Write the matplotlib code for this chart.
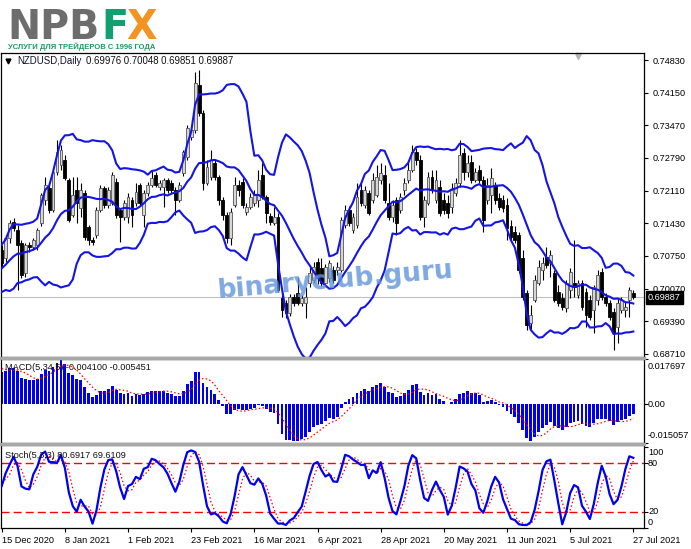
import numpy as np
import pandas as pd
import matplotlib
matplotlib.use("Agg")
import matplotlib.pyplot as plt
from matplotlib.patches import Rectangle

# NZDUSD daily bars on the chart, 15 Dec 2020 .. 27 Jul 2021
opens = [0.7087, 0.7071, 0.7112, 0.7146, 0.7129, 0.7102, 0.7039, 0.7098, 0.7094, 0.7098,
         0.7144, 0.7192, 0.7216, 0.7171, 0.7250, 0.7264, 0.7275, 0.7233, 0.7160, 0.7212,
         0.7175, 0.7206, 0.7135, 0.7108, 0.7119, 0.7171, 0.7216, 0.7181, 0.7185, 0.7229,
         0.7171, 0.7156, 0.7156, 0.7192, 0.7185, 0.7223, 0.7160, 0.7206, 0.7223, 0.7244,
         0.7219, 0.7219, 0.7233, 0.7227, 0.7212, 0.7192, 0.7248, 0.7281, 0.7323, 0.7337,
         0.7431, 0.7373, 0.7227, 0.7239, 0.7269, 0.7239, 0.7192, 0.7160, 0.7112, 0.7181,
         0.7223, 0.7229, 0.7167, 0.7177, 0.7185, 0.7192, 0.7244, 0.7198, 0.7158, 0.7144,
         0.7156, 0.6987, 0.6977, 0.6956, 0.6989, 0.6998, 0.6977, 0.6977, 0.7019, 0.7025,
         0.7062, 0.7050, 0.7019, 0.7029, 0.7046, 0.7046, 0.7046, 0.7140, 0.7171, 0.7129,
         0.7139, 0.7212, 0.7181, 0.7206, 0.7192, 0.7202, 0.7233, 0.7244, 0.7185, 0.7156,
         0.7192, 0.7171, 0.7212, 0.7233, 0.7254, 0.7291, 0.7275, 0.7156, 0.7185, 0.7239,
         0.7192, 0.7219, 0.7192, 0.7185, 0.7177, 0.7206, 0.7227, 0.7289, 0.7250, 0.7271,
         0.7233, 0.7254, 0.7233, 0.7192, 0.7202, 0.7223, 0.7196, 0.7192, 0.7181, 0.7137,
         0.7125, 0.7119, 0.7071, 0.6998, 0.6935, 0.6983, 0.7019, 0.7046, 0.7073, 0.7060,
         0.7040, 0.6999, 0.6987, 0.6967, 0.7004, 0.7019, 0.6994, 0.7019, 0.6999, 0.6983,
         0.6962, 0.6983, 0.7042, 0.6989, 0.6977, 0.6958, 0.6927, 0.6962, 0.6962, 0.6983,
         0.69976]
highs = [0.7098, 0.7119, 0.7150, 0.7154, 0.7139, 0.7108, 0.7102, 0.7104, 0.7112, 0.7133,
         0.7206, 0.7239, 0.7223, 0.7254, 0.7316, 0.7306, 0.7285, 0.7237, 0.7239, 0.7239,
         0.7227, 0.7212, 0.7139, 0.7114, 0.7177, 0.7223, 0.7221, 0.7219, 0.7250, 0.7237,
         0.7175, 0.7192, 0.7206, 0.7198, 0.7227, 0.7227, 0.7212, 0.7229, 0.7254, 0.7250,
         0.7233, 0.7237, 0.7237, 0.7233, 0.7219, 0.7229, 0.7296, 0.7347, 0.7347, 0.7458,
         0.7462, 0.7379, 0.7275, 0.7296, 0.7275, 0.7244, 0.7198, 0.7166, 0.7175, 0.7239,
         0.7233, 0.7237, 0.7185, 0.7206, 0.7212, 0.7254, 0.7269, 0.7202, 0.7164, 0.7177,
         0.7164, 0.6999, 0.6983, 0.6996, 0.6996, 0.7031, 0.6994, 0.7010, 0.7052, 0.7062,
         0.7071, 0.7071, 0.7058, 0.7067, 0.7054, 0.7062, 0.7156, 0.7181, 0.7179, 0.7164,
         0.7227, 0.7227, 0.7221, 0.7212, 0.7248, 0.7264, 0.7269, 0.7264, 0.7227, 0.7192,
         0.7198, 0.7206, 0.7237, 0.7275, 0.7306, 0.7300, 0.7285, 0.7200, 0.7250, 0.7254,
         0.7254, 0.7233, 0.7206, 0.7202, 0.7227, 0.7237, 0.7316, 0.7300, 0.7285, 0.7285,
         0.7258, 0.7264, 0.7242, 0.7237, 0.7258, 0.7229, 0.7206, 0.7202, 0.7196, 0.7150,
         0.7137, 0.7125, 0.7087, 0.7004, 0.6973, 0.7035, 0.7067, 0.7073, 0.7094, 0.7087,
         0.7046, 0.7015, 0.6998, 0.7025, 0.7050, 0.7108, 0.7025, 0.7025, 0.7008, 0.6994,
         0.7015, 0.7046, 0.7050, 0.6998, 0.6983, 0.6967, 0.6987, 0.6989, 0.6979, 0.7010,
         0.70048]
lows = [0.7050, 0.7062, 0.7102, 0.7127, 0.7004, 0.7029, 0.7031, 0.7083, 0.7087, 0.7087,
        0.7137, 0.7181, 0.7164, 0.7166, 0.7244, 0.7254, 0.7233, 0.7146, 0.7156, 0.7144,
        0.7156, 0.7108, 0.7098, 0.7098, 0.7112, 0.7166, 0.7175, 0.7175, 0.7181, 0.7154,
        0.7104, 0.7150, 0.7144, 0.7135, 0.7179, 0.7179, 0.7135, 0.7200, 0.7219, 0.7219,
        0.7212, 0.7177, 0.7206, 0.7206, 0.7160, 0.7187, 0.7241, 0.7275, 0.7316, 0.7331,
        0.7366, 0.7212, 0.7223, 0.7233, 0.7233, 0.7181, 0.7150, 0.7102, 0.7098, 0.7177,
        0.7200, 0.7175, 0.7160, 0.7173, 0.7179, 0.7177, 0.7194, 0.7144, 0.7139, 0.7139,
        0.6999, 0.6948, 0.6946, 0.6950, 0.6971, 0.6973, 0.6971, 0.6946, 0.7010, 0.7019,
        0.7017, 0.7012, 0.7012, 0.7021, 0.7019, 0.7035, 0.7042, 0.7133, 0.7137, 0.7123,
        0.7133, 0.7179, 0.7175, 0.7160, 0.7185, 0.7198, 0.7225, 0.7185, 0.7150, 0.7146,
        0.7119, 0.7164, 0.7202, 0.7227, 0.7250, 0.7264, 0.7150, 0.7135, 0.7181, 0.7206,
        0.7185, 0.7158, 0.7162, 0.7154, 0.7164, 0.7200, 0.7219, 0.7233, 0.7239, 0.7227,
        0.7229, 0.7227, 0.7125, 0.7183, 0.7164, 0.7183, 0.7171, 0.7166, 0.7108, 0.7108,
        0.7102, 0.7040, 0.6983, 0.6921, 0.6923, 0.6979, 0.7015, 0.7025, 0.7050, 0.7031,
        0.6979, 0.6971, 0.6962, 0.6958, 0.6987, 0.6989, 0.6987, 0.6962, 0.6927, 0.6942,
        0.6915, 0.6973, 0.6983, 0.6971, 0.6942, 0.6879, 0.6894, 0.6956, 0.6948, 0.6948,
        0.69851]
closes = [0.7060, 0.7112, 0.7144, 0.7133, 0.7098, 0.7035, 0.7098, 0.7094, 0.7108, 0.7129,
          0.7202, 0.7223, 0.7171, 0.7250, 0.7291, 0.7296, 0.7237, 0.7150, 0.7202, 0.7185,
          0.7212, 0.7114, 0.7108, 0.7104, 0.7171, 0.7216, 0.7181, 0.7212, 0.7244, 0.7160,
          0.7156, 0.7185, 0.7198, 0.7160, 0.7208, 0.7185, 0.7206, 0.7223, 0.7237, 0.7223,
          0.7227, 0.7233, 0.7212, 0.7212, 0.7192, 0.7223, 0.7291, 0.7341, 0.7337, 0.7435,
          0.7373, 0.7227, 0.7260, 0.7275, 0.7239, 0.7192, 0.7160, 0.7112, 0.7167, 0.7223,
          0.7212, 0.7181, 0.7177, 0.7198, 0.7202, 0.7233, 0.7198, 0.7164, 0.7146, 0.7156,
          0.7004, 0.6962, 0.6956, 0.6989, 0.6977, 0.6977, 0.6987, 0.6989, 0.7040, 0.7052,
          0.7029, 0.7019, 0.7052, 0.7060, 0.7025, 0.7052, 0.7150, 0.7171, 0.7144, 0.7156,
          0.7198, 0.7185, 0.7212, 0.7164, 0.7233, 0.7239, 0.7248, 0.7192, 0.7156, 0.7181,
          0.7144, 0.7198, 0.7227, 0.7254, 0.7291, 0.7275, 0.7156, 0.7192, 0.7239, 0.7212,
          0.7233, 0.7164, 0.7171, 0.7164, 0.7212, 0.7227, 0.7285, 0.7250, 0.7269, 0.7233,
          0.7250, 0.7233, 0.7150, 0.7223, 0.7237, 0.7192, 0.7177, 0.7175, 0.7133, 0.7114,
          0.7108, 0.7046, 0.6989, 0.6931, 0.6952, 0.7025, 0.7052, 0.7060, 0.7056, 0.7077,
          0.6983, 0.6977, 0.6969, 0.7019, 0.7042, 0.7010, 0.7019, 0.6969, 0.6952, 0.6948,
          0.7010, 0.7035, 0.6989, 0.6977, 0.6948, 0.6914, 0.6977, 0.6983, 0.6969, 0.7004,
          0.69887]

# earlier bars (19 Oct .. 14 Dec 2020): off screen, they only warm up the indicators
pre_highs = [0.6625, 0.6640, 0.6680, 0.6690, 0.6700, 0.6715, 0.6720, 0.6705, 0.6680, 0.6645,
             0.6650, 0.6680, 0.6730, 0.6775, 0.6800, 0.6810, 0.6870, 0.6860, 0.6875, 0.6895,
             0.6905, 0.6925, 0.6970, 0.6990, 0.6995, 0.7005, 0.7010, 0.7020, 0.7025, 0.7035,
             0.7040, 0.7038, 0.7050, 0.7070, 0.7088, 0.7085, 0.7090, 0.7082, 0.7088, 0.7085,
             0.7098]
pre_lows = [0.6575, 0.6590, 0.6600, 0.6640, 0.6650, 0.6665, 0.6675, 0.6655, 0.6610, 0.6590,
            0.6600, 0.6620, 0.6655, 0.6705, 0.6750, 0.6765, 0.6780, 0.6800, 0.6815, 0.6855,
            0.6870, 0.6885, 0.6905, 0.6940, 0.6950, 0.6960, 0.6965, 0.6975, 0.6980, 0.6990,
            0.7000, 0.7000, 0.7008, 0.7025, 0.7048, 0.7040, 0.7052, 0.7042, 0.7050, 0.7045,
            0.7058]
pre_closes = [0.6600, 0.6605, 0.6665, 0.6660, 0.6680, 0.6690, 0.6700, 0.6665, 0.6625, 0.6610,
              0.6625, 0.6660, 0.6715, 0.6760, 0.6775, 0.6790, 0.6850, 0.6820, 0.6865, 0.6880,
              0.6895, 0.6910, 0.6950, 0.6970, 0.6975, 0.6985, 0.6990, 0.7000, 0.7005, 0.7015,
              0.7020, 0.7020, 0.7030, 0.7055, 0.7070, 0.7060, 0.7075, 0.7060, 0.7070, 0.7065,
              0.7083]

price_ticks = [0.74830, 0.74150, 0.73470, 0.72790, 0.72110, 0.71430, 0.70750, 0.70070, 0.69390, 0.68710]
price_range = (0.68646, 0.74976)
last_price = 0.69887
date_ticks = [0, 16, 32, 48, 64, 80, 96, 112, 128, 144, 160]
date_labels = ["15 Dec 2020", "8 Jan 2021", "1 Feb 2021", "23 Feb 2021", "16 Mar 2021",
               "6 Apr 2021", "28 Apr 2021", "20 May 2021", "11 Jun 2021", "5 Jul 2021", "27 Jul 2021"]
macd_min, macd_max = -0.015057, 0.017697
stoch_levels = [20, 80]
title_main = "NZDUSD,Daily"
title_ohlc = "0.69976 0.70048 0.69851 0.69887"
title_macd = "MACD(5,34,5) -0.004100 -0.005451"
title_stoch = "Stoch(5,3,3) 80.6917 69.6109"
bands_period = 14

# ---------------- indicators ----------------
n_pre = len(pre_closes)
c_all = pd.Series(pre_closes + closes)
h_all = pd.Series(pre_highs + highs)
l_all = pd.Series(pre_lows + lows)

mid = c_all.rolling(bands_period).mean()
dev = c_all.rolling(bands_period).std(ddof=0)
upper = (mid + 2 * dev).values[n_pre:]
lower = (mid - 2 * dev).values[n_pre:]
mid = mid.values[n_pre:]

macd = c_all.ewm(span=5, adjust=False).mean() - c_all.ewm(span=34, adjust=False).mean()
macd_sig = macd.rolling(5).mean().values[n_pre:]
macd = macd.values[n_pre:]

ll = l_all.rolling(5).min()
hh = h_all.rolling(5).max()
k = (c_all - ll).rolling(3).sum() / (hh - ll).rolling(3).sum() * 100
d = k.rolling(3).mean().values[n_pre:]
k = k.values[n_pre:]

# ---------------- figure ----------------
W, H = 691, 549
fig = plt.figure(figsize=(W / 100, H / 100), dpi=100)
FONT = ["Liberation Sans", "DejaVu Sans"]
FS = 6.6


def box(top, bottom, left=1, right=644):
    return [left / W, 1 - bottom / H, (right - left) / W, (bottom - top) / H]


def ftext(x, y, s, **kw):
    return fig.text(x / W, 1 - y / H, s, **kw)


ax = fig.add_axes(box(53, 357))
ax_m = fig.add_axes(box(359, 443))
ax_s = fig.add_axes(box(445, 528))

x = np.arange(len(closes))
xlim = (-0.18, 162.71)
o = np.array(opens)
c = np.array(closes)
h = np.maximum(np.array(highs), np.maximum(o, c))
l = np.minimum(np.array(lows), np.minimum(o, c))
up = c >= o

ax.axhline(last_price, color="#c0c0c0", lw=0.8, zorder=1)
ax.vlines(x, l, h, color="black", lw=0.8, zorder=2)
body_lo = np.minimum(o, c)
body_h = np.maximum(np.abs(c - o), 0.00005)
ax.bar(x[up], body_h[up], bottom=body_lo[up], width=0.72, color="#d6d6d6",
       edgecolor="#555555", linewidth=0.6, zorder=3)
ax.bar(x[~up], body_h[~up], bottom=body_lo[~up], width=0.72, color="black",
       edgecolor="black", linewidth=0.6, zorder=3)

band_col = "#1414e6"
for line in (upper, mid, lower):
    ax.plot(x, line, color=band_col, lw=1.5, zorder=4)

ax.set_xlim(*xlim)
ax.set_ylim(*price_range)
ax.set_xticks([])
ax.yaxis.tick_right()
ax.set_yticks(price_ticks)
ax.set_yticklabels([f"{v:.5f}" for v in price_ticks], fontsize=FS, family=FONT)
ax.tick_params(axis="y", direction="out", length=3, width=0.8, pad=3)

# current price box
ax.annotate(f"{last_price:.5f}", xy=(1, last_price), xycoords=("axes fraction", "data"),
            xytext=(4, 0), textcoords="offset pixels", va="center", ha="left",
            fontsize=FS, family=FONT, color="white", annotation_clip=False,
            bbox=dict(boxstyle="square,pad=0.25", fc="black", ec="black"))

ax.plot(0.897, 0.99, marker="v", color="#b4b4b4", ms=5, transform=ax.transAxes, clip_on=False)

# MACD
ax_m.bar(x, macd, width=0.7, color="#0000f0", linewidth=0, zorder=2)
ax_m.plot(x, macd_sig, color="red", lw=0.9, ls=(0, (1.2, 1.8)), zorder=3)
ax_m.set_xlim(*xlim)
ax_m.set_ylim(macd_min, macd_max)
ax_m.set_xticks([])
ax_m.yaxis.tick_right()
ax_m.set_yticks([macd_max, 0, macd_min])
ax_m.set_yticklabels([])
ax_m.tick_params(axis="y", direction="out", length=3, width=0.8)
for val, dy, txt in [(macd_max, -7.5, "0.017697"), (0, 0, "0.00"), (macd_min, 7, "-0.015057")]:
    ax_m.annotate(txt, xy=(1, val), xycoords=("axes fraction", "data"), xytext=(4, dy),
                  textcoords="offset pixels", va="center", ha="left", fontsize=FS,
                  family=FONT, annotation_clip=False)

# Stochastic
for lev in stoch_levels:
    ax_s.axhline(lev, color="red", lw=1.0, ls=(0, (5.8, 2.9)), zorder=1)
ax_s.plot(x, k, color="#0000f0", lw=1.6, zorder=3)
ax_s.plot(x, d, color="red", lw=0.9, ls=(0, (1.2, 1.8)), zorder=2)
ax_s.set_xlim(*xlim)
ax_s.set_ylim(0, 102.6)
ax_s.yaxis.tick_right()
ax_s.set_yticks([100, 80, 20, 0])
ax_s.set_yticklabels([])
ax_s.tick_params(axis="y", direction="out", length=3, width=0.8)
for val, dy in [(100, -5.5), (80, 0), (20, 0), (0, 5.8)]:
    ax_s.annotate(str(val), xy=(1, val), xycoords=("axes fraction", "data"), xytext=(4, dy),
                  textcoords="offset pixels", va="center", ha="left", fontsize=FS,
                  family=FONT, annotation_clip=False)
ax_s.set_xticks(date_ticks)
ax_s.set_xticklabels(date_labels, fontsize=FS, family=FONT)
for lab in ax_s.get_xticklabels():
    lab.set_ha("left")
ax_s.tick_params(axis="x", direction="out", length=3, width=0.8, pad=3)

for a in (ax, ax_m, ax_s):
    for sp in a.spines.values():
        sp.set_linewidth(0.9)
        sp.set_color("black")

# panel separators
for y0 in (356.5, 442.5):
    fig.patches.append(Rectangle((0, 1 - (y0 + 2.5) / H), 645 / W, 2.5 / H,
                                 transform=fig.transFigure, color="#a8a8a8", zorder=5))

# panel captions
ax.plot(0.011, 0.973, marker="v", color="black", ms=3.5, transform=ax.transAxes)
ftext(17, 61.5, title_main, fontsize=FS + 0.3, family=FONT, va="center", color="#101030")
ftext(86, 61.5, title_ohlc, fontsize=FS + 0.3, family=FONT, va="center", color="#101010")
ftext(5, 368, title_macd, fontsize=FS, family=FONT, va="center", color="#101010", zorder=10)
ftext(5, 455, title_stoch, fontsize=FS, family=FONT, va="center", color="#101010")

# watermark
ftext(336, 281, "binaryclub.guru", fontsize=19, weight="bold", family=["DejaVu Sans"],
      color="#6396dc", alpha=0.82, rotation=5, ha="center", va="center", zorder=20)

# logo
logo_fs = 28.5
logo_font = ["DejaVu Sans"]
ftext(7, 39, "NPB", fontsize=logo_fs, weight="bold", family=logo_font, color="#6d6d6d", va="baseline")
ftext(101, 39, "F", fontsize=logo_fs, weight="bold", family=logo_font, color="#12a070", va="baseline")
ftext(126, 39, "X", fontsize=logo_fs, weight="bold", family=logo_font, color="#f39322", va="baseline")
ftext(8, 47, "УСЛУГИ ДЛЯ ТРЕЙДЕРОВ С 1996 ГОДА", fontsize=5.5, weight="bold",
      family=FONT, color="#1c9a62", va="center")

fig.savefig("out.png", dpi=100)
